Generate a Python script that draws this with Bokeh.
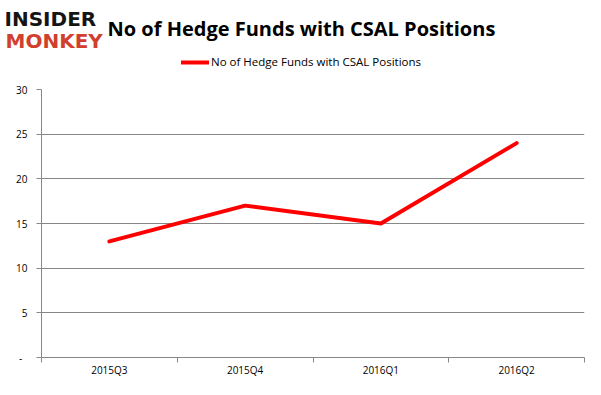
from bokeh.plotting import figure
from bokeh.models import Range1d, FixedTicker, Label, Legend, LegendItem
from bokeh.embed import file_html
from bokeh.resources import INLINE

quarters = ["2015Q3", "2015Q4", "2016Q1", "2016Q2"]
funds = [13, 17, 15, 24]
y_ticks = [0, 5, 10, 15, 20, 25, 30]
title_text = "No of Hedge Funds with CSAL Positions"

xs = [i + 0.5 for i in range(len(quarters))]

W = 585
HH = 80           # header height
CH = 379 - HH     # chart height
RED = "#ff0000"
GRID = "#878787"

# ---------------- header (logo, title, legend) ----------------
hdr = figure(width=W, height=HH, output_backend="svg", toolbar_location=None, title=None,
             x_range=Range1d(0, W), y_range=Range1d(HH, 0),
             x_axis_type=None, y_axis_type=None,
             min_border_left=0, min_border_right=0, min_border_top=0, min_border_bottom=0)
hdr.outline_line_color = None
hdr.grid.grid_line_color = None
hdr.background_fill_color = "white"
hdr.border_fill_color = "white"

hdr.add_layout(Label(x=4, y=18, text="INSIDER", text_font="DejaVu Sans",
                     text_font_style="bold", text_font_size="20px",
                     text_color="#151515", text_baseline="alphabetic"))
hdr.add_layout(Label(x=5, y=40, text="MONKEY", text_font="DejaVu Sans",
                     text_font_style="bold", text_font_size="20px",
                     text_color="#d13f2e", text_baseline="alphabetic"))
hdr.add_layout(Label(x=107, y=28, text=title_text, text_font="Open Sans",
                     text_font_style="bold", text_font_size="20px",
                     text_color="#000000", text_baseline="alphabetic"))

# legend sample renderer (not drawn; used only for the legend swatch)
swatch = hdr.line(xs, funds, line_color=RED, line_width=4, line_cap="round", visible=False)
legend = Legend(items=[LegendItem(label=title_text, renderers=[swatch])],
                location=(181, 11), orientation="horizontal",
                label_text_font="Open Sans", label_text_font_size="11.5px",
                label_text_color="#000000", glyph_width=28, glyph_height=8,
                label_standoff=2, padding=0, margin=0, spacing=0,
                border_line_color=None, background_fill_alpha=0)
hdr.add_layout(legend, "center")

# ---------------- chart ----------------
FL, FT, FR, FB = 41, 89 - HH, 584, 361 - HH
p = figure(width=W, height=CH, output_backend="svg", toolbar_location=None, title=None,
           x_range=Range1d(0, len(quarters)), y_range=Range1d(0, 30),
           min_border_left=FL, min_border_top=FT, min_border_right=W - FR,
           min_border_bottom=CH - FB)
p.outline_line_color = None
p.background_fill_color = "white"
p.border_fill_color = "white"

p.line(xs, funds, line_color=RED, line_width=4, line_cap="round", line_join="round")

xa = p.xaxis[0]
xa.ticker = FixedTicker(ticks=xs, minor_ticks=list(range(len(quarters) + 1)))
xa.major_label_overrides = {x: q for x, q in zip(xs, quarters)}
xa.major_tick_out = 0
xa.major_tick_in = 0
xa.minor_tick_out = 5
xa.minor_tick_in = 0
xa.minor_tick_line_color = GRID
xa.axis_line_color = GRID
xa.major_label_standoff = 0
xa.major_label_text_font = "Open Sans"
xa.major_label_text_font_size = "10px"
xa.major_label_text_color = "#000000"

ya = p.yaxis[0]
ya.ticker = FixedTicker(ticks=y_ticks, minor_ticks=[])
ya.major_label_overrides = {0: "-  "}
ya.major_tick_out = 5
ya.major_tick_in = 0
ya.major_tick_line_color = GRID
ya.axis_line_color = GRID
ya.major_label_standoff = 9
ya.major_label_text_font = "Open Sans"
ya.major_label_text_font_size = "10px"
ya.major_label_text_color = "#000000"

p.xgrid.grid_line_color = None
p.ygrid.grid_line_color = GRID
p.ygrid.grid_line_width = 1

open("out.html", "w").write(file_html([hdr, p], INLINE))
